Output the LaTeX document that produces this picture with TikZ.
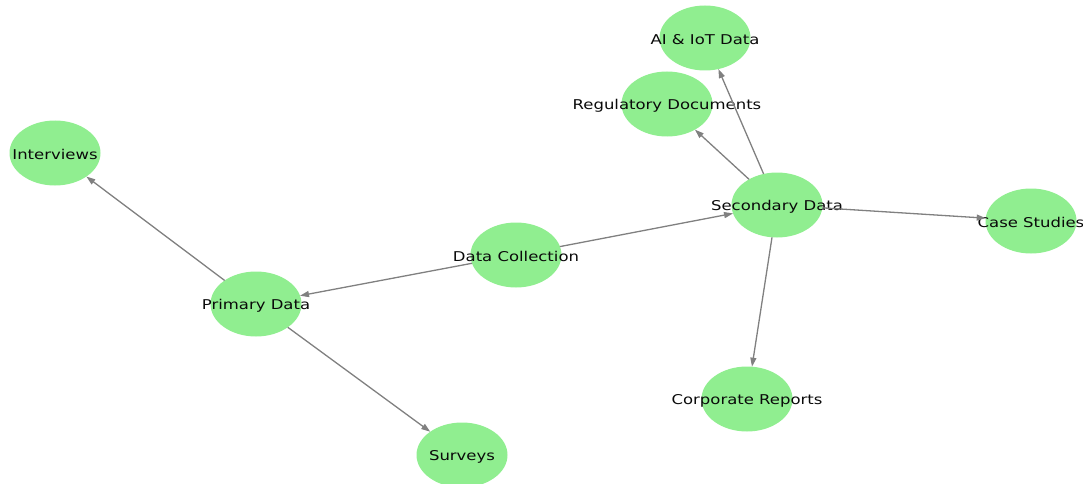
\documentclass[tikz,border=0pt]{standalone}
\usepackage{fontspec}
\newfontfamily\nodefont[FakeStretch=1.22]{DejaVu Sans}
\usetikzlibrary{arrows.meta,shapes.geometric}
\definecolor{lgreen}{RGB}{144,238,144}
\definecolor{edgegray}{RGB}{128,128,128}
\definecolor{txt}{RGB}{10,10,10}
\begin{document}
\begin{tikzpicture}[x=1pt,y=-1pt,
  nd/.style={ellipse, fill=lgreen, minimum width=91pt, minimum height=65pt, inner sep=0pt, outer sep=0pt,
    label={[lbl]center:#1}},
  lbl/.style={text=txt, inner sep=0pt, yshift=-1.5pt, font=\nodefont\fontsize{13.5}{14}\selectfont},
  ar/.style={draw=edgegray, line width=1.3pt, -{Triangle[length=9pt,width=6pt]}}]
\useasboundingbox (0,0) rectangle (1083,484);
\node[nd=AI \& IoT Data] (ai) at (705,38) {};
\node[nd=Regulatory Documents] (reg) at (667,104) {};
\node[nd=Interviews] (int) at (55,153) {};
\node[nd=Secondary Data] (sec) at (777,205) {};
\node[nd=Case Studies] (cs) at (1031,221) {};
\node[nd=Data Collection] (dc) at (516,255) {};
\node[nd=Primary Data] (pd) at (256,304) {};
\node[nd=Corporate Reports] (cr) at (747,399) {};
\node[nd=Surveys] (sv) at (462,455) {};
\draw[ar] (dc) -- (pd);
\draw[ar] (dc) -- (sec);
\draw[ar] (pd) -- (int);
\draw[ar] (pd) -- (sv);
\draw[ar] (sec) -- (ai);
\draw[ar] (sec) -- (reg);
\draw[ar] (sec) -- (cs);
\draw[ar] (sec) -- (cr);
\end{tikzpicture}
\end{document}
